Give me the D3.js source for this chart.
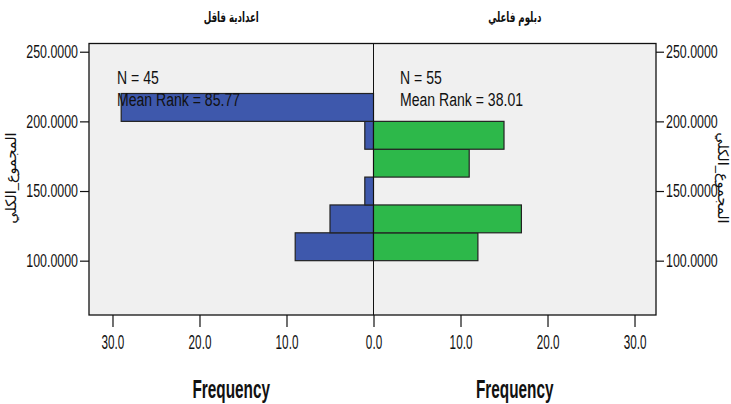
<!DOCTYPE html>
<html><head><meta charset="utf-8">
<script src="https://cdn.jsdelivr.net/npm/d3@7"></script>
<style>
body{margin:0;background:#fff;}
text{font-family:"Liberation Sans",Arial,sans-serif;fill:#111;}
</style></head>
<body><svg id="c" width="731" height="404"></svg>
<script>
const binStarts = [100, 120, 140, 160, 180, 200];
const binWidth = 20;
const leftCounts = [9, 5, 1, 0, 1, 29];   // اعدادية فاقل
const rightCounts = [12, 17, 0, 11, 15, 0]; // دبلوم فاعلي
const groupTitles = ["اعدادية فاقل", "دبلوم فاعلي"];
const stats = [["N = 45", "Mean Rank = 85.77"], ["N = 55", "Mean Rank = 38.01"]];
const yTicks = [100, 150, 200, 250];
const xTicks = [-30, -20, -10, 0, 10, 20, 30];
const yLabel = "المجموع_الكلي";
const xLabel = "Frequency";

const svg = d3.select("#c");
const L = 89, R = 656, T = 43.5, B = 315;
const x = d3.scaleLinear().domain([-32.70, 32.47]).range([L, R]);
const y = d3.scaleLinear().domain([61.0, 255.9]).range([B, T]);
const cx = x(0);

// condense a text horizontally around its anchor point
function narrow(sel, sx) {
  sel.each(function() {
    const t = d3.select(this);
    const x0 = +t.attr("x") || 0, y0 = +t.attr("y") || 0;
    t.attr("transform", `translate(${x0},${y0}) scale(${sx},1) translate(${-x0},${-y0})`);
  });
}

svg.append("rect").attr("x", L).attr("y", T).attr("width", R - L).attr("height", B - T)
  .attr("fill", "#f0f0f0");

const bins = binStarts.map((s, i) => ({s, l: leftCounts[i], r: rightCounts[i]}));
svg.selectAll("rect.lb").data(bins.filter(d => d.l > 0)).join("rect").attr("class", "lb")
  .attr("x", d => x(-d.l)).attr("width", d => cx - x(-d.l))
  .attr("y", d => y(d.s + binWidth)).attr("height", d => y(d.s) - y(d.s + binWidth))
  .attr("fill", "#3e58ac").attr("stroke", "#222").attr("stroke-width", 1.2);
svg.selectAll("rect.rb").data(bins.filter(d => d.r > 0)).join("rect").attr("class", "rb")
  .attr("x", cx).attr("width", d => x(d.r) - cx)
  .attr("y", d => y(d.s + binWidth)).attr("height", d => y(d.s) - y(d.s + binWidth))
  .attr("fill", "#2db84a").attr("stroke", "#222").attr("stroke-width", 1.2);

svg.append("line").attr("x1", cx).attr("x2", cx).attr("y1", T).attr("y2", B)
  .attr("stroke", "#111").attr("stroke-width", 1);
svg.append("rect").attr("x", L).attr("y", T).attr("width", R - L).attr("height", B - T)
  .attr("fill", "none").attr("stroke", "#111").attr("stroke-width", 1.3);

// axes
const fmtY = d => d3.format(".4f")(d);
const ax1 = svg.append("g").attr("transform", `translate(${L},0)`)
  .call(d3.axisLeft(y).tickValues(yTicks).tickFormat(fmtY).tickSize(9).tickPadding(2));
const ax2 = svg.append("g").attr("transform", `translate(${R},0)`)
  .call(d3.axisRight(y).tickValues(yTicks).tickFormat(fmtY).tickSize(8).tickPadding(2));
const ax3 = svg.append("g").attr("transform", `translate(0,${B})`)
  .call(d3.axisBottom(x).tickValues(xTicks).tickFormat(d => d3.format(".1f")(Math.abs(d))).tickSize(12).tickPadding(8));
[ax1, ax2, ax3].forEach(a => {
  a.select(".domain").remove();
  a.selectAll("line").attr("stroke", "#111").attr("stroke-width", 1.2);
  a.selectAll("text").attr("fill", "#222").style("font-family", '"Liberation Sans",Arial,sans-serif');
});
ax1.selectAll("text").attr("font-size", 18).call(narrow, 0.69);
ax2.selectAll("text").attr("font-size", 18).call(narrow, 0.69);
ax3.selectAll("text").attr("font-size", 19.5).call(narrow, 0.6);

// panel titles
const panelCenters = [(L + cx) / 2, (cx + R) / 2];
svg.selectAll("text.gt").data(groupTitles).join("text").attr("class", "gt")
  .attr("x", (d, i) => panelCenters[i]).attr("y", 22).attr("text-anchor", "middle")
  .attr("font-size", 14).attr("font-weight", "bold")
  .style("font-family", '"DejaVu Sans",sans-serif').text(d => d)
  .call(narrow, 0.62);

// stats
const statX = [117, 400];
stats.forEach((s, i) => {
  s.forEach((t, j) => {
    svg.append("text").attr("x", statX[i]).attr("y", 84 + j * 22).attr("font-size", 19)
      .text(t).call(narrow, 0.74);
  });
});

// y labels
svg.append("text").attr("transform", `translate(16,178) rotate(-90)`).attr("text-anchor", "middle")
  .attr("font-size", 14.5).style("font-family", '"DejaVu Sans",sans-serif').text(yLabel);
svg.append("text").attr("transform", `translate(718,178) rotate(90)`).attr("text-anchor", "middle")
  .attr("font-size", 14.5).style("font-family", '"DejaVu Sans",sans-serif').text(yLabel);

// x labels
panelCenters.forEach(px => {
  svg.append("text").attr("x", px).attr("y", 398).attr("text-anchor", "middle")
    .attr("font-size", 26).attr("font-weight", "bold").text(xLabel).call(narrow, 0.59);
});
</script></body></html>
